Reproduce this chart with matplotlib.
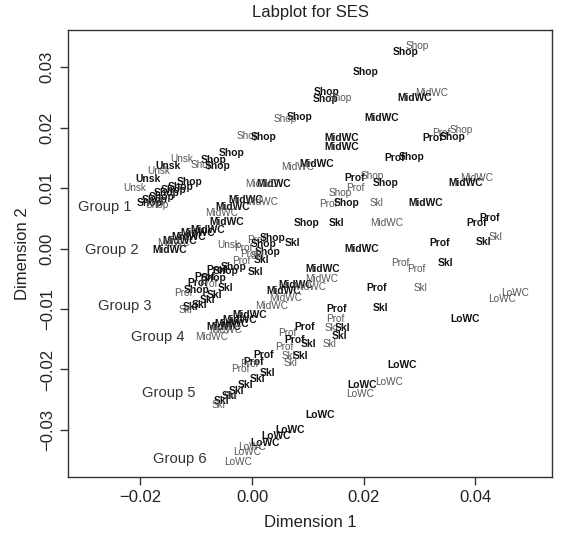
import matplotlib
matplotlib.use("Agg")
import matplotlib.pyplot as plt

plt.rcParams['font.family'] = ['Liberation Sans', 'DejaVu Sans']

# point labels: text, coordinates and whether drawn as a heavy (bold) label
lab_text = [
    "Shop", "Shop", "Shop", "Shop", "Shop", "Shop", "MidWC", "MidWC", "MidWC", "Shop",
    "Shop", "MidWC", "MidWC", "Prof", "Prof", "Shop", "Shop", "Prof", "Shop", "MidWC",
    "MidWC", "Prof", "Shop", "Shop", "MidWC", "MidWC", "Prof", "Shop", "Shop", "Shop",
    "Shop", "Shop", "Shop", "Shop", "Unsk", "Unsk", "Unsk", "Unsk", "Unsk", "MidWC",
    "MidWC", "Shop", "Shop", "Shop", "Shop", "Shop", "Shop", "Shop", "Shop", "MidWC",
    "MidWC", "MidWC", "MidWC", "MidWC", "MidWC", "MidWC", "MidWC", "MidWC", "MidWC", "MidWC",
    "Unsk", "Prof", "Prof", "Shop", "Skl", "Shop", "Shop", "Prof", "Skl", "Prof",
    "Skl", "Shop", "Shop", "Skl", "Prof", "Prof", "Shop", "Prof", "Prof", "Shop",
    "Skl", "Prof", "Skl", "Skl", "Skl", "Skl", "Skl", "MidWC", "MidWC", "MidWC",
    "MidWC", "MidWC", "MidWC", "MidWC", "MidWC", "MidWC", "MidWC", "MidWC", "Prof", "Prof",
    "Prof", "Skl", "Prof", "Skl", "Skl", "Skl", "Prof", "Shop", "Skl", "MidWC",
    "Shop", "Skl", "MidWC", "Prof", "Prof", "Skl", "Skl", "Prof", "MidWC", "Prof",
    "Prof", "Skl", "MidWC", "MidWC", "Prof", "Skl", "Skl", "LoWC", "LoWC", "LoWC",
    "Prof", "Prof", "Skl", "Skl", "Skl", "Skl", "Prof", "Prof", "Prof", "Prof",
    "Skl", "Skl", "Skl", "Skl", "Skl", "Skl", "Skl", "Skl", "LoWC", "LoWC",
    "LoWC", "LoWC", "LoWC", "LoWC", "LoWC", "LoWC", "LoWC", "LoWC", "LoWC",
]
lab_x = [
    0.02950, 0.02758, 0.02042, 0.01338, 0.01325, 0.01576, 0.03219, 0.02920, 0.02323, 0.00860,
    0.00591, 0.01607, 0.01607, 0.03242, 0.03398, 0.03744, 0.03600, 0.02561, 0.02861, 0.01159,
    0.00824, 0.01845, 0.02144, 0.02400, 0.04025, 0.03833, 0.01845, 0.01576, -0.00066, 0.00202,
    -0.00364, -0.00693, -0.00901, -0.00609, -0.01259, -0.01499, -0.01678, -0.01857, -0.02096, 0.00382,
    0.00179, -0.01111, -0.01272, -0.01397, -0.01528, -0.01617, -0.01737, -0.01827, -0.01702, -0.00107,
    0.00179, -0.00340, -0.00543, -0.00448, -0.00788, -0.00967, -0.01128, -0.01290, -0.01397, -0.01469,
    -0.00425, -0.00161, 0.00084, 0.00376, 0.00734, 0.00215, 0.00287, -0.00054, 0.00174, -0.00197,
    0.00090, -0.00322, -0.00466, 0.00054, -0.00627, -0.00842, -0.00681, -0.00967, -0.00788, -0.00985,
    -0.00466, -0.01231, -0.00663, -0.00806, -0.00949, -0.01093, -0.01200, 0.00788, 0.00573, 0.00609,
    0.01039, 0.00358, -0.00036, -0.00215, -0.00358, -0.00502, -0.00466, -0.00722, 0.00949, 0.00627,
    0.00770, 0.01008, 0.00573, 0.00650, 0.00860, 0.00681, 0.01361, 0.01696, 0.02221, 0.03117,
    0.00985, 0.01522, 0.02413, 0.04025, 0.04263, 0.04143, 0.04370, 0.03367, 0.01965, 0.02651,
    0.02937, 0.03457, 0.01266, 0.01248, 0.02234, 0.03022, 0.02293, 0.04711, 0.04473, 0.03815,
    0.01517, 0.01487, 0.01428, 0.01625, 0.01576, 0.01397, 0.00202, 0.00036, -0.00054, -0.00215,
    0.00269, 0.00090, -0.00125, -0.00269, -0.00412, -0.00555, -0.00609, -0.00394, 0.02681, 0.02459,
    0.01965, 0.01934, 0.01218, 0.00681, 0.00430, 0.00233, 0.00000, -0.00090, -0.00245,
]
lab_y = [
    0.03352, 0.03253, 0.02922, 0.02592, 0.02466, 0.02493, 0.02565, 0.02483, 0.02152, 0.02179,
    0.02141, 0.01822, 0.01673, 0.01826, 0.01904, 0.01959, 0.01848, 0.01501, 0.01517, 0.01397,
    0.01347, 0.01160, 0.01198, 0.01088, 0.01170, 0.01078, 0.01005, 0.00922, 0.01860, 0.01838,
    0.01574, 0.01463, 0.01380, 0.01364, 0.01479, 0.01364, 0.01281, 0.01157, 0.01008, 0.01066,
    0.01074, 0.01104, 0.01021, 0.00967, 0.00912, 0.00856, 0.00802, 0.00747, 0.00719, 0.00810,
    0.00769, 0.00691, 0.00595, 0.00438, 0.00314, 0.00251, 0.00195, 0.00132, 0.00091, -0.00017,
    0.00058, 0.00008, 0.00140, 0.00174, 0.00086, 0.00074, -0.00053, -0.00083, -0.00190, -0.00207,
    -0.00124, -0.00301, -0.00380, -0.00383, -0.00355, -0.00466, -0.00493, -0.00575, -0.00587, -0.00678,
    -0.00658, -0.00731, -0.00769, -0.00851, -0.00926, -0.00975, -0.01017, -0.00603, -0.00702, -0.00813,
    -0.00636, -0.00950, -0.01099, -0.01182, -0.01240, -0.01298, -0.01347, -0.01458, -0.01293, -0.01402,
    -0.01512, -0.01579, -0.01620, -0.01777, -0.01777, -0.01898, 0.00736, 0.00757, 0.00747, 0.00747,
    0.00426, 0.00417, 0.00417, 0.00417, 0.00499, 0.00102, 0.00195, 0.00086, -0.00013, -0.00245,
    -0.00344, -0.00235, -0.00344, -0.00504, -0.00658, -0.00658, -0.00979, -0.00741, -0.00840, -0.01170,
    -0.01005, -0.01170, -0.01309, -0.01309, -0.01446, -0.01583, -0.01760, -0.01876, -0.01901, -0.01992,
    -0.02063, -0.02165, -0.02248, -0.02355, -0.02430, -0.02521, -0.02587, -0.02438, -0.01926, -0.02202,
    -0.02256, -0.02405, -0.02752, -0.03008, -0.03107, -0.03215, -0.03289, -0.03372, -0.03524,
]
lab_bold = [
    0, 1, 1, 1, 1, 0, 0, 1, 1, 1,
    0, 1, 1, 1, 0, 0, 1, 1, 1, 1,
    0, 1, 0, 1, 0, 1, 0, 0, 0, 1,
    1, 1, 0, 1, 0, 1, 0, 1, 0, 1,
    0, 1, 1, 1, 1, 1, 1, 1, 0, 1,
    0, 1, 0, 1, 1, 1, 1, 1, 0, 1,
    0, 0, 0, 1, 1, 1, 1, 0, 1, 0,
    0, 1, 1, 1, 1, 1, 1, 1, 0, 1,
    1, 0, 1, 1, 1, 1, 0, 1, 1, 0,
    0, 0, 1, 1, 1, 1, 0, 0, 1, 0,
    1, 1, 0, 0, 1, 0, 0, 1, 0, 1,
    1, 1, 0, 1, 1, 1, 0, 1, 1, 0,
    0, 1, 1, 0, 1, 0, 1, 0, 0, 1,
    1, 0, 0, 1, 1, 0, 1, 1, 0, 0,
    1, 1, 1, 1, 1, 1, 0, 0, 1, 0,
    1, 0, 1, 1, 1, 1, 0, 0, 0,
]

group_names = ["Group 1", "Group 2", "Group 3", "Group 4", "Group 5", "Group 6"]
group_x = [-0.02642, -0.02508, -0.02275, -0.01696, -0.01499, -0.01302]
group_y = [0.00686, -0.00025, -0.00950, -0.01458, -0.02383, -0.03479]

fig = plt.figure(figsize=(5.67, 5.40), dpi=100)
ax = fig.add_axes([68 / 567, 63 / 540, 484 / 567, 447 / 540])

for t, x, y, b in zip(lab_text, lab_x, lab_y, lab_bold):
    if b:
        ax.text(x, y, t, ha='center', va='center', fontsize=7.4,
                fontweight='bold', color='#111111')
    else:
        ax.text(x, y, t, ha='center', va='center', fontsize=7.2, color='#555555')

for name, gx, gy in zip(group_names, group_x, group_y):
    ax.text(gx, gy, name, ha='center', va='center', fontsize=10.6, color='#333333')

ax.set_xlim(-0.03296, 0.05373)
ax.set_ylim(-0.03777, 0.03612)
ax.set_xticks([-0.02, 0.0, 0.02, 0.04])
ax.set_xticklabels(["\u22120.02", "0.00", "0.02", "0.04"])
ax.set_yticks([-0.03, -0.02, -0.01, 0.0, 0.01, 0.02, 0.03])
ax.set_yticklabels(["\u22120.03", "\u22120.02", "\u22120.01", "0.00", "0.01", "0.02", "0.03"],
                   rotation=90, va='center')
ax.tick_params(length=5.5, width=1, color='#333333', labelsize=12, labelcolor='#222222', pad=4)
for s in ax.spines.values():
    s.set_color('#333333')
    s.set_linewidth(1)

ax.set_title("Labplot for SES", fontsize=12, color='#222222', pad=9)
ax.set_xlabel("Dimension 1", fontsize=12, color='#222222', labelpad=7)
ax.set_ylabel("Dimension 2", fontsize=12, color='#222222', labelpad=7)

fig.savefig("out.png", dpi=100)
